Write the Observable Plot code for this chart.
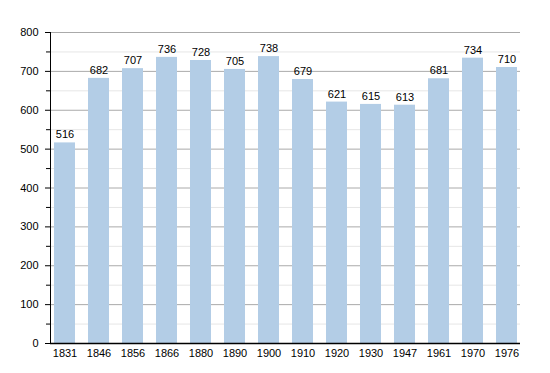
<!DOCTYPE html>
<html><head><meta charset="utf-8">
<script src="https://cdn.jsdelivr.net/npm/d3@7"></script>
<script src="https://cdn.jsdelivr.net/npm/@observablehq/plot@0.6"></script>
<style>body{margin:0;background:#fff}</style>
</head><body><div id="chart"></div>
<script>
const years = ["1831","1846","1856","1866","1880","1890","1900","1910","1920","1930","1947","1961","1970","1976"];
const population = [516,682,707,736,728,705,738,679,621,615,613,681,734,710];
const majorTicks = [0,100,200,300,400,500,600,700,800];
const minorTicks = [50,150,250,350,450,550,650,750];

const data = years.map((y,i)=>({year:y, pop:population[i]}));

const chart = Plot.plot({
  width: 550, height: 373,
  marginLeft: 50, marginRight: 30, marginTop: 32, marginBottom: 30,
  style: {fontFamily: "Liberation Sans, Arial, sans-serif", fontSize: "11px", color: "#000", background: "#fff"},
  x: {domain: years, paddingInner: 0.39, paddingOuter: 0, label: null},
  y: {domain: [0,800], label: null},
  marks: [
    Plot.ruleY(minorTicks, {stroke: "#e6e6e6", strokeWidth: 1}),
    Plot.ruleY(majorTicks, {stroke: "#aaaaaa", strokeWidth: 1}),
    Plot.barY(data, {x: "year", y: "pop", fill: "#b3cde6"}),
    Plot.text(data, {x: "year", y: "pop", text: d => String(d.pop), dy: -8, fill: "#000", fontSize: 11}),
    Plot.axisY(majorTicks, {tickSize: 5, tickPadding: 7, fontSize: 11, stroke: "#000"}),
    Plot.axisY(minorTicks, {tickSize: 4, text: null, stroke: "#000"}),
    Plot.axisX({tickSize: 0, tickPadding: 6, fontSize: 11}),
    Plot.frame({anchor: "left", stroke: "#000"}),
    Plot.ruleY([0], {stroke: "#000", strokeWidth: 1.5})
  ]
});
document.getElementById("chart").appendChild(chart);
</script>
</body></html>
